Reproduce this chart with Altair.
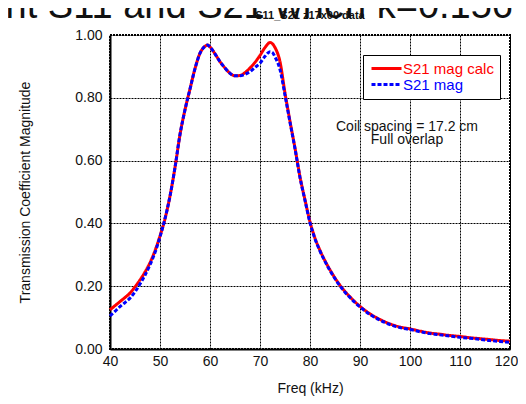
import altair as alt
import pandas as pd

# ---- data ----
freq = [40, 41, 42, 43, 44, 45, 46, 47, 48, 49, 50, 51, 52, 53, 54, 55, 56, 57, 58, 59, 59.5,
        60, 61, 62, 63, 64, 65, 66, 67, 68, 69, 70, 71, 72, 72.5, 73, 74, 75, 76, 77, 78, 79,
        80, 81, 82, 83, 84, 85, 86, 87, 88, 89, 90, 92, 94, 96, 98, 100, 102, 104, 106, 108,
        110, 112, 114, 116, 118, 120]
s21_calc = [0.125, 0.138, 0.151, 0.164, 0.178, 0.198, 0.220, 0.245, 0.275, 0.313, 0.360, 0.415,
            0.487, 0.578, 0.683, 0.762, 0.828, 0.893, 0.942, 0.964, 0.968,
            0.962, 0.940, 0.915, 0.895, 0.878, 0.870, 0.871, 0.880, 0.895, 0.913, 0.935, 0.960,
            0.976, 0.972, 0.960, 0.915, 0.815, 0.725, 0.640, 0.548, 0.475,
            0.405, 0.353, 0.314, 0.281, 0.252, 0.226, 0.203, 0.183, 0.166, 0.150, 0.136, 0.112,
            0.094, 0.080, 0.070, 0.064, 0.057, 0.051, 0.047, 0.043,
            0.040, 0.036, 0.033, 0.030, 0.027, 0.025]
s21_meas = [0.105, 0.120, 0.135, 0.148, 0.162, 0.182, 0.207, 0.235, 0.268, 0.307, 0.357, 0.415,
            0.487, 0.578, 0.683, 0.762, 0.828, 0.893, 0.942, 0.964, 0.968,
            0.962, 0.940, 0.915, 0.895, 0.878, 0.870, 0.870, 0.875, 0.883, 0.897, 0.910, 0.932,
            0.947, 0.944, 0.930, 0.890, 0.808, 0.722, 0.638, 0.546, 0.473,
            0.402, 0.351, 0.312, 0.279, 0.250, 0.224, 0.201, 0.181, 0.164, 0.148, 0.134, 0.110,
            0.092, 0.078, 0.068, 0.062, 0.055, 0.049, 0.045, 0.041,
            0.037, 0.034, 0.031, 0.027, 0.024, 0.021]
series_names = ["S21 mag calc", "S21 mag"]
series_colors = ["#ff0000", "#0000ff"]
x_ticks = [40, 50, 60, 70, 80, 90, 100, 110, 120]
y_ticks = [0.0, 0.2, 0.4, 0.6, 0.8, 1.0]
note_lines = ["Coil spacing = 17.2 cm", "Full overlap"]
note_freq = [99.4, 99.4]
note_value = [0.694, 0.653]
big_title = "Measurement S11 and S21 when k=0.156"
sub_title = "S11_S21 z17x00 data"

df = pd.DataFrame({
    "freq": freq * 2,
    "value": s21_calc + s21_meas,
    "series": [series_names[0]] * len(freq) + [series_names[1]] * len(freq),
})
notes = pd.DataFrame({"freq": note_freq, "value": note_value, "t": note_lines})

FONT = "Liberation Sans"

legend = alt.Legend(
    orient="none", legendX=253, legendY=20, title=None,
    symbolType="M-1,0H5", symbolSize=100, symbolStrokeWidth=3,
    symbolDash=alt.ExprRef("datum.value == 'S21 mag' ? [4, 2] : [1, 0]"),
    labelFontSize=15, labelFont=FONT, labelOffset=19,
    labelColor=alt.ExprRef("datum.value == 'S21 mag' ? '#0000ff' : '#ff0000'"),
    padding=6, rowPadding=0, strokeColor="black", fillColor="white",
)

x_enc = alt.X("freq:Q", scale=alt.Scale(domain=[40, 120], nice=False, zero=False),
              axis=alt.Axis(values=x_ticks, title="Freq (kHz)", labelPadding=5, titlePadding=13,
                            labelFlush=False,
                            labelOffset=alt.ExprRef("datum.value == 120 ? -4 : 0")))
y_enc = alt.Y("value:Q", scale=alt.Scale(domain=[0, 1], nice=False),
              axis=alt.Axis(values=y_ticks, format=".2f", title="Transmission Coefficient Magnitude",
                            labelPadding=8, titlePadding=42, labelFlush=False))
color_enc = alt.Color("series:N", scale=alt.Scale(domain=series_names, range=series_colors), legend=legend)
dash_enc = alt.StrokeDash("series:N", scale=alt.Scale(domain=series_names, range=[[1, 0], [4, 2]]), legend=None)

base = alt.Chart(df)
calc_line = base.transform_filter(alt.datum.series == series_names[0]).mark_line(
    strokeWidth=3, interpolate="monotone").encode(x=x_enc, y=y_enc, color=color_enc, strokeDash=dash_enc)
meas_line = base.transform_filter(alt.datum.series == series_names[1]).mark_line(
    strokeWidth=3, interpolate="monotone").encode(x=x_enc, y=y_enc, color=color_enc, strokeDash=dash_enc)

note_text = alt.Chart(notes).mark_text(font=FONT, fontSize=14, color="#111", align="center",
                                       baseline="alphabetic").encode(
    x="freq:Q", y="value:Q", text="t:N")

title_text = alt.Chart(pd.DataFrame({"t": [big_title]})).mark_text(
    font=FONT, fontSize=38, color="#111", align="right", baseline="alphabetic", clip=False).encode(
    x=alt.value(403), y=alt.value(-17), text="t:N")
sub_text = alt.Chart(pd.DataFrame({"t": [sub_title]})).mark_text(
    font=FONT, fontSize=11, fontWeight="bold", color="#111", align="center", baseline="alphabetic").encode(
    x=alt.value(200), y=alt.value(-16), text="t:N")

chart = alt.layer(calc_line, meas_line, note_text, title_text, sub_text).properties(
    width=400, height=314,
    autosize=alt.AutoSizeParams(type="none"),
    padding={"left": 102, "top": 27, "right": 8, "bottom": 47},
).configure_view(
    stroke="black", strokeWidth=2, strokeDash=[2, 1]
).configure_axis(
    domainColor="black", domainWidth=2, gridColor="black", gridDash=[2, 1], gridWidth=1,
    gridOpacity=1, ticks=False, labelFont=FONT, titleFont=FONT, labelFontSize=14, titleFontSize=14,
    labelColor="#111", titleColor="#111", titleFontWeight="normal",
)

chart.save("out.html", embed_options={"renderer": "svg", "actions": False})
